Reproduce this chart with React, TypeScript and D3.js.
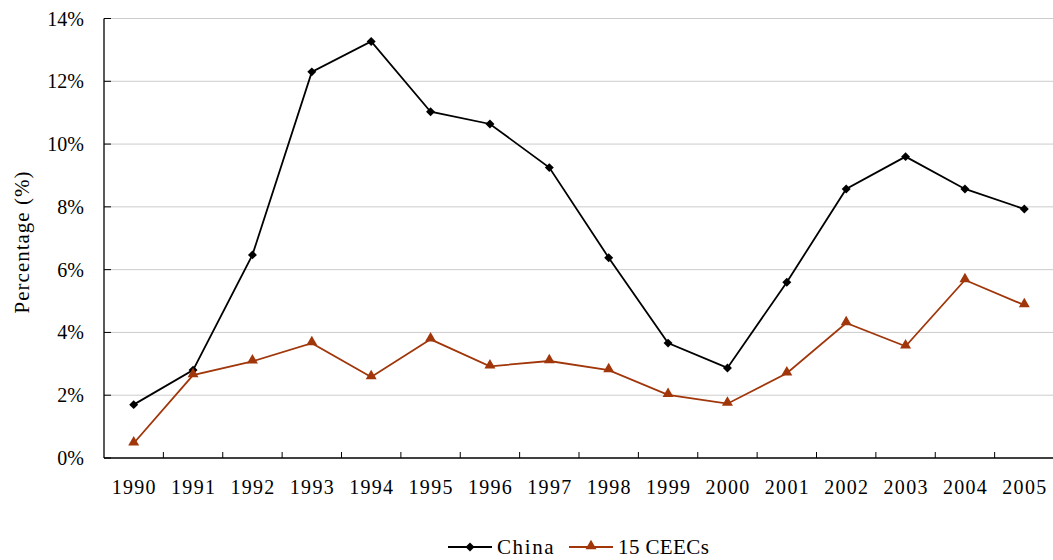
import * as React from 'react';
import * as d3 from 'd3';

const years = ['1990', '1991', '1992', '1993', '1994', '1995', '1996', '1997', '1998', '1999', '2000', '2001', '2002', '2003', '2004', '2005'];
const china = [1.7, 2.8, 6.47, 12.3, 13.27, 11.03, 10.64, 9.25, 6.38, 3.66, 2.87, 5.6, 8.57, 9.6, 8.57, 7.93];
const ceecs = [0.47, 2.64, 3.08, 3.66, 2.58, 3.78, 2.92, 3.09, 2.8, 2.01, 1.73, 2.7, 4.3, 3.56, 5.67, 4.87];
const yTicks = [0, 2, 4, 6, 8, 10, 12, 14];

const FONT = '"Liberation Serif", "Times New Roman", serif';
const CEEC_COLOR = '#a0360a';

export default function App() {
  const ref = React.useRef<SVGSVGElement>(null);

  React.useEffect(() => {
    const svg = d3.select(ref.current);
    svg.selectAll('*').remove();

    const left = 104, right = 1054, top = 18.5, bottom = 458;
    const x = d3.scaleBand().domain(years).range([left, right]);
    const y = d3.scaleLinear().domain([0, 14]).range([bottom, top]);
    const cx = (i: number) => (x(years[i]) as number) + x.bandwidth() / 2;

    // grid
    svg.append('g').selectAll('line')
      .data(yTicks.filter(d => d > 0))
      .enter().append('line')
      .attr('x1', left).attr('x2', right)
      .attr('y1', d => y(d)).attr('y2', d => y(d))
      .attr('stroke', '#cccccc').attr('stroke-width', 1);

    // y axis
    const yAxis = svg.append('g');
    yAxis.append('line').attr('x1', left).attr('x2', left).attr('y1', top).attr('y2', bottom)
      .attr('stroke', '#000').attr('stroke-width', 1.3);
    yAxis.selectAll('line.tick').data(yTicks).enter().append('line')
      .attr('class', 'tick')
      .attr('x1', left).attr('x2', left + 7)
      .attr('y1', d => y(d)).attr('y2', d => y(d))
      .attr('stroke', '#000').attr('stroke-width', 1);
    yAxis.selectAll('text').data(yTicks).enter().append('text')
      .attr('x', 84).attr('y', d => y(d) + 7)
      .attr('text-anchor', 'end')
      .attr('font-family', FONT).attr('font-size', 20)
      .text(d => `${d}%`);

    // x axis
    const xAxis = svg.append('g');
    xAxis.append('line').attr('x1', left).attr('x2', right).attr('y1', bottom).attr('y2', bottom)
      .attr('stroke', '#000').attr('stroke-width', 1.3);
    xAxis.selectAll('line.tick').data(years.slice(1)).enter().append('line')
      .attr('class', 'tick')
      .attr('x1', d => x(d) as number).attr('x2', d => x(d) as number)
      .attr('y1', bottom).attr('y2', bottom - 6)
      .attr('stroke', '#000').attr('stroke-width', 1);
    xAxis.selectAll('text').data(years).enter().append('text')
      .attr('x', d => (x(d) as number) + x.bandwidth() / 2 + 0.6)
      .attr('y', 494)
      .attr('text-anchor', 'middle')
      .attr('font-family', FONT).attr('font-size', 20)
      .attr('letter-spacing', 1.3)
      .text(d => d);

    svg.append('text')
      .attr('transform', 'translate(29, 242) rotate(-90)')
      .attr('text-anchor', 'middle')
      .attr('font-family', FONT).attr('font-size', 21)
      .attr('letter-spacing', 1)
      .text('Percentage (%)');

    const line = d3.line<number>().x((d, i) => cx(i)).y(d => y(d));
    const diamond = d3.symbol().type(d3.symbolSquare).size(40);
    const tri = d3.symbol().type(d3.symbolTriangle).size(52);

    svg.append('path').datum(china).attr('d', line)
      .attr('fill', 'none').attr('stroke', '#000').attr('stroke-width', 1.8);
    svg.append('path').datum(ceecs).attr('d', line)
      .attr('fill', 'none').attr('stroke', CEEC_COLOR).attr('stroke-width', 1.8);

    svg.append('g').selectAll('path').data(china).enter().append('path')
      .attr('d', diamond as any)
      .attr('transform', (d, i) => `translate(${cx(i)},${y(d)}) rotate(45)`)
      .attr('fill', '#000');
    svg.append('g').selectAll('path').data(ceecs).enter().append('path')
      .attr('d', tri as any)
      .attr('transform', (d, i) => `translate(${cx(i)},${y(d) - 1})`)
      .attr('fill', CEEC_COLOR);

    // legend
    const lg = svg.append('g');
    const items = [
      { name: 'China', color: '#000', sym: diamond, x0: 448, rot: 45 },
      { name: '15 CEECs', color: CEEC_COLOR, sym: tri, x0: 569, rot: 0 },
    ];
    items.forEach(it => {
      lg.append('line').attr('x1', it.x0).attr('x2', it.x0 + 44).attr('y1', 547).attr('y2', 547)
        .attr('stroke', it.color).attr('stroke-width', 1.8);
      lg.append('path').attr('d', it.sym as any)
        .attr('transform', `translate(${it.x0 + 22},${it.rot ? 547 : 546}) rotate(${it.rot})`)
        .attr('fill', it.color);
      lg.append('text').attr('x', it.x0 + 49).attr('y', 554)
        .attr('font-family', FONT).attr('font-size', 21)
        .attr('letter-spacing', it.rot ? 1.6 : 0.4)
        .text(it.name);
    });
  }, []);

  return (
    <svg ref={ref} width={1053} height={560}
      style={{ position: 'absolute', left: 0, top: 0, background: '#fff' }} />
  );
}
